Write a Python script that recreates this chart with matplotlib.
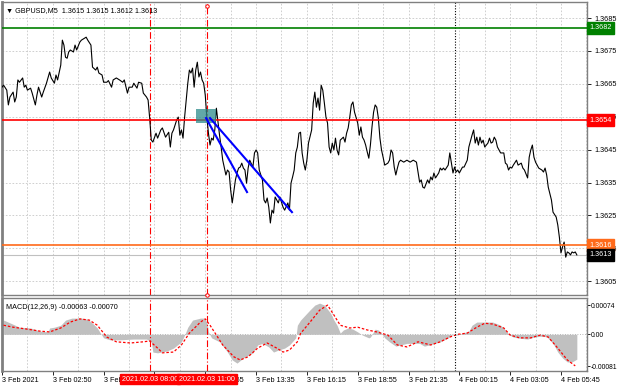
import matplotlib
matplotlib.use('Agg')
import matplotlib.pyplot as plt
import matplotlib.transforms as mtrans
from matplotlib.patches import Rectangle
import numpy as np

plt.rcParams['font.family'] = ['Liberation Sans', 'DejaVu Sans']
plt.rcParams['font.size'] = 5.2

# GBPUSD M5 close prices, sampled at bar numbers (bar 0 = 3 Feb 2021 00:00)
bars = [0, 1, 3, 4, 5, 7, 8, 9, 10, 11,
        13, 14, 15, 16, 18, 19, 21, 22, 23, 25,
        26, 28, 30, 31, 33, 34, 35, 37, 38, 39,
        40, 41, 42, 43, 45, 46, 47, 49, 50, 52,
        53, 54, 56, 57, 59, 60, 61, 63, 64, 66,
        67, 69, 70, 72, 74, 76, 77, 79, 80, 82,
        83, 85, 86, 88, 89, 91, 92, 93, 94, 95,
        97, 98, 100, 101, 103, 105, 106, 107, 108, 110,
        111, 112, 113, 114, 115, 117, 118, 119, 120, 121,
        122, 123, 124, 125, 126, 127, 128, 129, 130, 131,
        132, 133, 134, 135, 136, 137, 138, 139, 141, 142,
        143, 144, 145, 147, 148, 149, 150, 151, 152, 153,
        154, 155, 156, 158, 159, 160, 161, 162, 164, 165,
        166, 167, 168, 169, 170, 171, 172, 173, 174, 175,
        177, 178, 180, 181, 182, 183, 184, 185, 186, 187,
        188, 189, 190, 191, 192, 193, 195, 196, 197, 198,
        199, 200, 201, 202, 203, 204, 205, 206, 207, 208,
        209, 210, 211, 212, 213, 215, 216, 217, 218, 219,
        220, 221, 222, 224, 225, 226, 227, 228, 229, 230,
        231, 232, 233, 234, 235, 236, 237, 238, 239, 240,
        241, 243, 244, 245, 246, 247, 248, 249, 250, 251,
        253, 255, 257, 259, 261, 262, 263, 264, 265, 266,
        268, 269, 270, 271, 272, 273, 275, 276, 277, 278,
        279, 281, 282, 283, 284, 285, 286, 287, 288, 290,
        291, 293, 294, 296, 297, 298, 299, 300, 301, 302,
        303, 304, 306, 307, 308, 309, 310, 311, 312, 314,
        316, 317, 318, 319, 320, 321, 322, 324, 325, 327,
        328, 329, 331, 332, 333, 334, 335, 336, 337, 338,
        340, 341, 342, 343, 344, 346, 347, 349, 350, 351,
        352, 353, 354, 355, 356, 357, 358, 359, 360, 361, 362]
prices = [1.36640, 1.36646, 1.36631, 1.36586, 1.36610, 1.36625, 1.36595, 1.36610, 1.36662, 1.36655,
          1.36668, 1.36640, 1.36646, 1.36631, 1.36637, 1.36622, 1.36586, 1.36616, 1.36640, 1.36610,
          1.36625, 1.36652, 1.36686, 1.36668, 1.36652, 1.36677, 1.36662, 1.36707, 1.36783, 1.36768,
          1.36731, 1.36728, 1.36747, 1.36753, 1.36747, 1.36768, 1.36753, 1.36777, 1.36783, 1.36789,
          1.36792, 1.36783, 1.36768, 1.36701, 1.36692, 1.36701, 1.36683, 1.36677, 1.36655, 1.36655,
          1.36660, 1.36640, 1.36662, 1.36668, 1.36662, 1.36655, 1.36662, 1.36622, 1.36640, 1.36640,
          1.36652, 1.36637, 1.36655, 1.36652, 1.36622, 1.36610, 1.36601, 1.36546, 1.36479, 1.36473,
          1.36500, 1.36485, 1.36510, 1.36516, 1.36488, 1.36503, 1.36458, 1.36500, 1.36510, 1.36540,
          1.36549, 1.36494, 1.36510, 1.36485, 1.36549, 1.36652, 1.36692, 1.36683, 1.36698, 1.36640,
          1.36692, 1.36716, 1.36671, 1.36686, 1.36662, 1.36652, 1.36616, 1.36549, 1.36500, 1.36464,
          1.36485, 1.36479, 1.36510, 1.36576, 1.36534, 1.36494, 1.36458, 1.36418, 1.36373, 1.36388,
          1.36382, 1.36327, 1.36288, 1.36358, 1.36379, 1.36394, 1.36397, 1.36409, 1.36394, 1.36388,
          1.36348, 1.36394, 1.36418, 1.36397, 1.36440, 1.36449, 1.36440, 1.36388, 1.36358, 1.36297,
          1.36288, 1.36303, 1.36275, 1.36227, 1.36266, 1.36257, 1.36306, 1.36297, 1.36288, 1.36306,
          1.36275, 1.36266, 1.36288, 1.36266, 1.36348, 1.36367, 1.36388, 1.36440, 1.36458, 1.36500,
          1.36503, 1.36440, 1.36409, 1.36388, 1.36418, 1.36470, 1.36510, 1.36592, 1.36625, 1.36579,
          1.36607, 1.36570, 1.36646, 1.36631, 1.36592, 1.36549, 1.36531, 1.36458, 1.36440, 1.36470,
          1.36449, 1.36485, 1.36449, 1.36434, 1.36479, 1.36488, 1.36473, 1.36500, 1.36516, 1.36549,
          1.36586, 1.36595, 1.36564, 1.36531, 1.36494, 1.36519, 1.36488, 1.36479, 1.36464, 1.36443,
          1.36424, 1.36464, 1.36519, 1.36564, 1.36586, 1.36579, 1.36546, 1.36485, 1.36449, 1.36427,
          1.36403, 1.36409, 1.36418, 1.36449, 1.36440, 1.36397, 1.36373, 1.36394, 1.36412, 1.36418,
          1.36412, 1.36418, 1.36412, 1.36418, 1.36412, 1.36382, 1.36351, 1.36358, 1.36336, 1.36333,
          1.36358, 1.36348, 1.36367, 1.36358, 1.36379, 1.36364, 1.36379, 1.36394, 1.36388, 1.36394,
          1.36388, 1.36403, 1.36440, 1.36409, 1.36379, 1.36397, 1.36382, 1.36388, 1.36379, 1.36397,
          1.36397, 1.36418, 1.36458, 1.36494, 1.36510, 1.36470, 1.36488, 1.36464, 1.36488, 1.36470,
          1.36479, 1.36458, 1.36470, 1.36485, 1.36470, 1.36473, 1.36488, 1.36479, 1.36458, 1.36440,
          1.36440, 1.36409, 1.36405, 1.36388, 1.36397, 1.36394, 1.36403, 1.36418, 1.36403, 1.36409,
          1.36394, 1.36388, 1.36364, 1.36427, 1.36449, 1.36464, 1.36427, 1.36412, 1.36403, 1.36394,
          1.36388, 1.36382, 1.36394, 1.36373, 1.36336, 1.36297, 1.36260, 1.36245, 1.36221, 1.36184,
          1.36136, 1.36154, 1.36169, 1.36123, 1.36139, 1.36136, 1.36130, 1.36139, 1.36136, 1.36139, 1.36130]

# MACD(12,26,9)
hist_bars = [1, 5, 11, 18, 24, 29, 30, 33, 37, 40, 44, 50, 54, 57, 60, 62, 64, 68, 74, 83,
             91, 94, 95, 98, 104, 108, 113, 115, 117, 120, 125, 127, 129, 130, 132, 137, 142, 145, 148, 152,
             158, 161, 164, 168, 171, 174, 178, 181, 185, 186, 188, 191, 194, 197, 200, 203, 207, 209, 211, 213,
             215, 218, 221, 224, 227, 231, 232, 235, 237, 239, 241, 244, 248, 251, 255, 259, 263, 266, 271, 276,
             281, 284, 287, 290, 294, 296, 299, 303, 309, 314, 317, 319, 322, 326, 331, 335, 339, 343, 347, 350,
             353, 356, 359, 362]
hist_vals = [0.00036, 0.00029, 0.00018, 0.00016, 0.00008, 0.00006, 0.00016, 0.00018, 0.00023, 0.00036,
             0.00041, 0.00041, 0.00038, 0.00028, 0.00016, 0.00003, -0.00009, -0.00014, -0.00014, -0.00012,
             -0.00012, -0.00019, -0.00045, -0.00047, -0.00042, -0.00035, -0.00019, -0.00002, 0.00018, 0.00036,
             0.00041, 0.00041, 0.00031, 0.00006, -0.00009, -0.00019, -0.00045, -0.00065, -0.00073, -0.00060,
             -0.00047, -0.00027, -0.00023, -0.00032, -0.00045, -0.00040, -0.00035, -0.00027, -0.00009, 0.00023,
             0.00036, 0.00049, 0.00062, 0.00074, 0.00079, 0.00074, 0.00053, 0.00036, 0.00023, 0.00003,
             0.00011, 0.00016, 0.00013, 0.00006, -0.00002, -0.00009, -0.00007, 0.00013, 0.00011, 0.00003,
             -0.00009, -0.00019, -0.00030, -0.00027, -0.00023, -0.00023, -0.00023, -0.00030, -0.00025, -0.00019,
             -0.00009, 0.00000, -0.00002, 0.00003, 0.00008, 0.00023, 0.00031, 0.00031, 0.00031, 0.00023,
             0.00011, 0.00000, -0.00007, -0.00010, -0.00012, -0.00007, -0.00005, -0.00006, -0.00023, -0.00045,
             -0.00060, -0.00070, -0.00070, -0.00063]
sig_bars = [1, 7, 16, 24, 30, 37, 43, 49, 55, 60, 66, 72, 81, 89, 93, 98, 101, 108, 113, 118,
            125, 128, 131, 135, 139, 146, 150, 155, 161, 167, 173, 177, 181, 186, 188, 194, 200, 205, 209, 213,
            219, 224, 230, 236, 243, 249, 255, 262, 270, 276, 282, 287, 293, 299, 304, 309, 316, 320, 326, 333,
            339, 344, 350, 356, 361]
sig_vals = [0.00023, 0.00018, 0.00013, 0.00008, 0.00006, 0.00016, 0.00031, 0.00039, 0.00036, 0.00023,
            -0.00007, -0.00019, -0.00022, -0.00019, -0.00017, -0.00035, -0.00047, -0.00045, -0.00027, 0.00003,
            0.00031, 0.00039, 0.00023, -0.00002, -0.00027, -0.00057, -0.00065, -0.00057, -0.00035, -0.00022,
            -0.00035, -0.00045, -0.00040, -0.00019, 0.00002, 0.00031, 0.00061, 0.00074, 0.00049, 0.00023,
            0.00016, 0.00018, 0.00011, 0.00006, -0.00002, -0.00027, -0.00032, -0.00019, -0.00027, -0.00019,
            -0.00007, 0.00000, 0.00003, 0.00018, 0.00028, 0.00026, 0.00016, -0.00002, -0.00009, -0.00009,
            -0.00002, -0.00007, -0.00035, -0.00065, -0.00080]

# horizontal levels
level_vals = [1.3682, 1.3654, 1.3616]
level_cols = ['#008000', '#ff0000', '#ff6a1a']
bid_price = 1.3613

# trend lines: (bar start, price start, bar end, price end)
trend1 = [128.5, 1.36546, 154.3, 1.36321]
trend2 = [131.0, 1.36546, 182.6, 1.36260]
box_bars = [122, 135]
box_prices = [1.36531, 1.36573]

event_bars = [93, 129]
event_labels = ['2021.02.03 08:00', '2021.02.03 11:00']
day_break = 285

tick_bars = list(range(0, 353, 32))
tick_labels = ['3 Feb 2021', '3 Feb 02:50', '3 Feb 05:30', '3 Feb 08:10', '3 Feb 10:55', '3 Feb 13:35',
               '3 Feb 16:15', '3 Feb 18:55', '3 Feb 21:35', '4 Feb 00:15', '4 Feb 03:05', '4 Feb 05:45']

xmax = 368.4
grid_kw = dict(color='#c8c8c8', linestyle=(0, (2, 2)), linewidth=0.6)

fig = plt.figure(figsize=(6.2, 3.88), dpi=100)
ax = fig.add_axes([2 / 620, 93 / 388, 585 / 620, 293 / 388])
ax2 = fig.add_axes([2 / 620, 17 / 388, 585 / 620, 73 / 388])

# ---- price panel ----
ax.set_xlim(0, xmax)
ax.set_ylim(1.36008, 1.36899)
ax.set_xticks(np.arange(0, xmax, 16))
ax.tick_params(axis='x', length=0, labelbottom=False)
ax.yaxis.tick_right()
ax.set_yticks(np.arange(1.3605, 1.3686, 0.001))
ax.set_yticklabels(['%.4f' % v for v in np.arange(1.3605, 1.3686, 0.001)])
ax.tick_params(axis='y', length=3, width=0.6, pad=2)
ax.grid(True, **grid_kw)
ax.set_axisbelow(True)

ax.plot(bars, prices, color='black', linewidth=0.8, zorder=3)

ax.axhline(bid_price, color='#c0c0c0', linewidth=0.8, zorder=2)
for val, col in zip(level_vals, level_cols):
    ax.axhline(val, color=col, linewidth=1.2, zorder=4)

dashdot = (0, (6, 2, 1, 2))
for b in event_bars:
    ax.axvline(b, color='#ff0000', linewidth=0.8, linestyle=dashdot, zorder=2)
    ax2.axvline(b, color='#ff0000', linewidth=0.8, linestyle=dashdot, zorder=4)
ax.axvline(day_break, color='black', linewidth=0.8, linestyle=(0, (1, 1.5)), zorder=2)
ax2.axvline(day_break, color='black', linewidth=0.8, linestyle=(0, (1, 1.5)), zorder=4)

# small anchor marks of the selected vertical line
trans_v = mtrans.blended_transform_factory(ax.transData, ax.transAxes)
ax.plot([event_bars[1], event_bars[1]], [0.985, 0.0], transform=trans_v, linestyle='none',
        marker='o', markersize=2.5, markerfacecolor='white', markeredgecolor='#ff0000',
        markeredgewidth=0.7, zorder=7, clip_on=False)

ax.add_patch(Rectangle((box_bars[0], box_prices[0]), box_bars[1] - box_bars[0],
                       box_prices[1] - box_prices[0], facecolor='#2e8b8b', alpha=0.75,
                       edgecolor='none', zorder=5))
for t in (trend1, trend2):
    ax.plot([t[0], t[2]], [t[1], t[3]], color='#0000ff', linewidth=1.5, zorder=6)

ax.text(0.006, 0.983, '▼ GBPUSD,M5  1.3615 1.3615 1.3612 1.3613', transform=ax.transAxes,
        ha='left', va='top', family=['Liberation Sans', 'DejaVu Sans'])

trans_r = mtrans.blended_transform_factory(ax.transAxes, ax.transData)
right_labels = list(zip(level_vals, level_cols)) + [(bid_price, 'black')]
for val, col in right_labels:
    ax.text(1.004, val, '%.4f' % val, transform=trans_r, ha='left', va='center', color='white',
            zorder=10, clip_on=False,
            bbox=dict(boxstyle='square,pad=0.3', facecolor=col, edgecolor=col))

# ---- MACD panel ----
ax2.set_xlim(0, xmax)
ax2.set_ylim(-0.00093, 0.00092)
ax2.fill_between(hist_bars, hist_vals, 0, color='#c0c0c0', linewidth=0, zorder=2)
ax2.plot(sig_bars, sig_vals, color='#ff0000', linewidth=0.9, linestyle=(0, (2, 1.5)), zorder=3)
ax2.axhline(0, color='#a0a0a0', linewidth=0.6, linestyle=(0, (1, 2)), zorder=1)
ax2.set_xticks(np.arange(0, xmax, 16), minor=True)
ax2.grid(True, which='minor', axis='x', **grid_kw)
ax2.tick_params(axis='x', which='minor', length=0)
ax2.set_xticks(tick_bars)
ax2.set_xticklabels(tick_labels)
for lab in ax2.get_xticklabels():
    lab.set_ha('left')
ax2.tick_params(axis='x', length=3, width=0.6, pad=1.5)
ax2.yaxis.tick_right()
ax2.set_yticks([-0.00081, 0, 0.00074])
ax2.set_yticklabels(['-0.00081', '0.00', '0.00074'])
ax2.tick_params(axis='y', length=2, width=0.6, pad=1, labelsize=4.9)
ax2.text(0.006, 0.92, 'MACD(12,26,9) -0.00063 -0.00070', transform=ax2.transAxes,
         ha='left', va='top')

trans_b = mtrans.blended_transform_factory(ax2.transData, ax2.transAxes)
for b, lab in zip(event_bars, event_labels):
    ax2.text(b, -0.11, lab, transform=trans_b, ha='center', va='center', color='white',
             zorder=10, clip_on=False,
             bbox=dict(boxstyle='square,pad=0.25', facecolor='#ff0000', edgecolor='#ff0000'))

for a in (ax, ax2):
    for s in a.spines.values():
        s.set_color('#808080')
        s.set_linewidth(1.0)
ax.spines['left'].set_linewidth(2)
ax2.spines['left'].set_linewidth(2)

fig.savefig('out.png', dpi=100, facecolor='white')
